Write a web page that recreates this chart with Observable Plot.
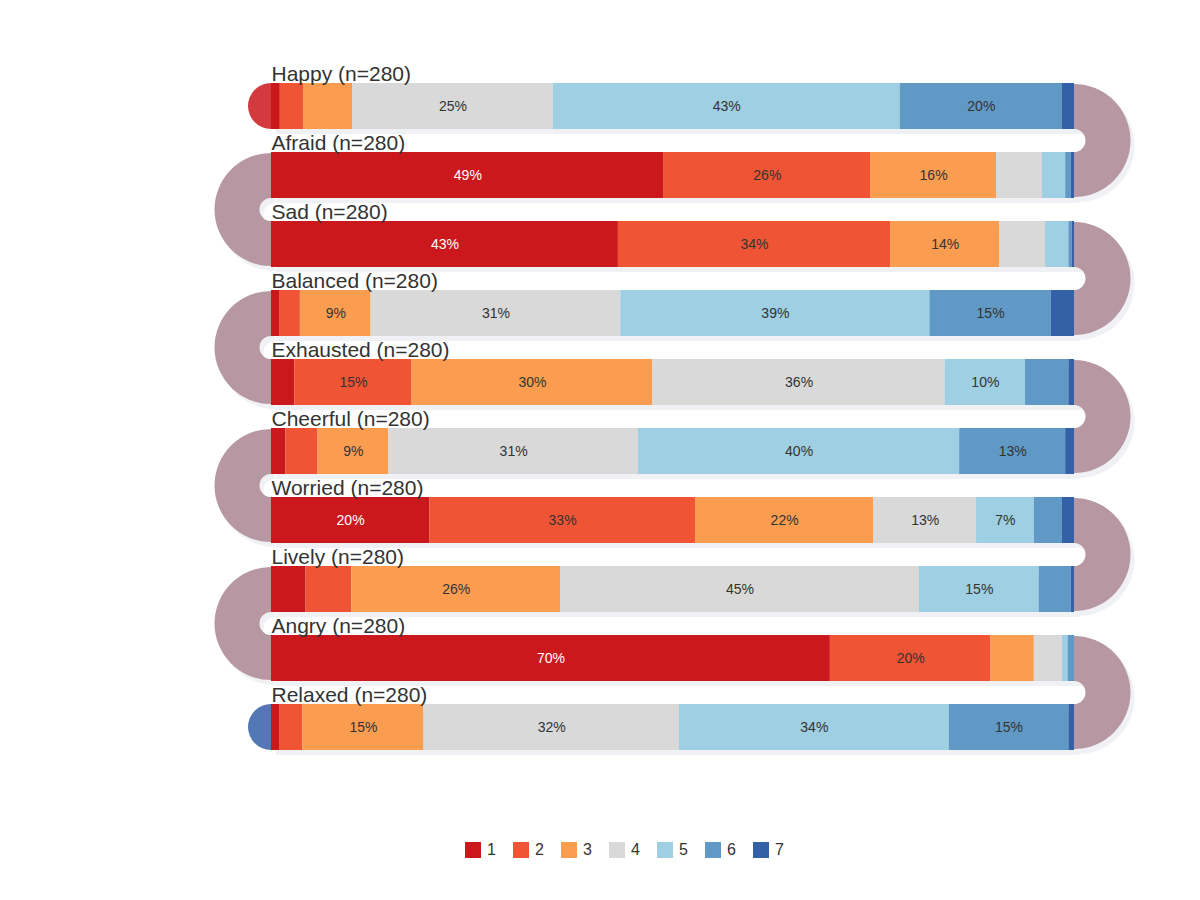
<!DOCTYPE html>
<html>
<head>
<meta charset="utf-8">
<script src="https://cdn.jsdelivr.net/npm/d3@7"></script>
<script src="https://cdn.jsdelivr.net/npm/@observablehq/plot@0.6"></script>
<style>
  body { margin: 0; background: #fff; font-family: "Liberation Sans", Arial, sans-serif; }
  #wrap { position: relative; width: 1200px; height: 900px; }
  #wrap svg { display: block; }
  #legend { position: absolute; left: 465px; top: 842px; display: flex; }
  .item { display: flex; align-items: center; width: 48px; font-size: 16px; color: #333; line-height: 16px; }
  .sw { width: 16px; height: 16px; margin-right: 6px; }
</style>
</head>
<body>
<div id="wrap"></div>
<script>
// ---- data ----
const emotions = ["Happy", "Afraid", "Sad", "Balanced", "Exhausted", "Cheerful", "Worried", "Lively", "Angry", "Relaxed"];
const counts = [280, 280, 280, 280, 280, 280, 280, 280, 280, 280];
const levels = ["1", "2", "3", "4", "5", "6", "7"];
const colors = ["#cb181d", "#ef5535", "#fb9d51", "#d9d9d9", "#9ecfe2", "#6199c6", "#3460a8"];

// shares (%) per level 1..7
const happy     = [1.1, 2.9, 6.1, 25.0, 43.2, 20.2, 1.5];
const afraid    = [48.9, 25.7, 15.7, 5.7, 2.9, 0.7, 0.4];
const sad       = [43.2, 33.9, 13.6, 5.7, 2.9, 0.4, 0.3];
const balanced  = [1.0, 2.6, 8.8, 31.1, 38.5, 15.1, 2.9];
const exhausted = [2.9, 14.6, 30.0, 36.4, 10.0, 5.4, 0.7];
const cheerful  = [1.8, 4.0, 8.8, 31.1, 40.0, 13.2, 1.1];
const worried   = [19.7, 33.1, 22.2, 12.8, 7.2, 3.5, 1.5];
const lively    = [4.3, 5.7, 26.0, 44.7, 14.9, 4.0, 0.4];
const angry     = [69.6, 20.0, 5.4, 3.5, 0.7, 0.8, 0.0];
const relaxed   = [1.0, 2.9, 15.1, 31.8, 33.6, 14.9, 0.7];
const shares = [happy, afraid, sad, balanced, exhausted, cheerful, worried, lively, angry, relaxed];

const connectorColor = "#b797a2";
const shadowColor = "#eff1f4";
const textColor = "#333333";

// ---- table built from arrays ----
const table = [];
emotions.forEach((e, i) => {
  levels.forEach((l, j) => table.push({emotion: e, level: l, value: shares[i][j]}));
});

// snake connectors and end caps, drawn with the plot's own scales
function connectors(index, scales) {
  const x = scales.x, y = scales.y;
  const bw = y.bandwidth();
  const step = y(emotions[1]) - y(emotions[0]);
  const gap = step - bw;
  const arc = d3.arc().innerRadius(gap / 2).outerRadius(bw + gap / 2 - 1);
  const g = d3.create("svg:g");
  const specs = [];
  for (let i = 0; i < emotions.length - 1; i++) {
    const right = i % 2 === 0;
    specs.push({
      cx: right ? x(100) : x(0),
      cy: y(emotions[i]) + bw + gap / 2,
      a: right ? {startAngle: 0, endAngle: Math.PI} : {startAngle: Math.PI, endAngle: 2 * Math.PI}
    });
  }
  for (const s of specs) {
    g.append("path").attr("transform", `translate(${s.cx + 4},${s.cy + 5})`)
      .attr("d", arc(s.a)).attr("fill", shadowColor);
  }
  for (const s of specs) {
    g.append("path").attr("transform", `translate(${s.cx},${s.cy})`)
      .attr("d", arc(s.a)).attr("fill", connectorColor);
  }
  // start / end caps
  const cap = d3.arc().innerRadius(0).outerRadius(bw / 2);
  const first = emotions[0], last = emotions[emotions.length - 1];
  g.append("path").attr("transform", `translate(${x(0)},${y(first) + bw / 2})`)
    .attr("d", cap({startAngle: Math.PI, endAngle: 2 * Math.PI}))
    .attr("fill", colors[0]).attr("fill-opacity", 0.85);
  g.append("path").attr("transform", `translate(${x(0)},${y(last) + bw / 2})`)
    .attr("d", cap({startAngle: Math.PI, endAngle: 2 * Math.PI}))
    .attr("fill", colors[colors.length - 1]).attr("fill-opacity", 0.85);
  return g.node();
}

const pctText = d => d.value >= 6.5 ? `${Math.round(d.value)}%` : null;

const chart = Plot.plot({
  width: 1200,
  height: 830,
  marginTop: 0, marginRight: 0, marginBottom: 0, marginLeft: 0,
  style: {background: "white", fontFamily: "'Liberation Sans', Arial, sans-serif"},
  x: {domain: [0, 100], range: [271, 1074], axis: null},
  y: {type: "band", domain: emotions, range: [83, 750], paddingInner: 1 / 3, paddingOuter: 0, round: false, axis: null},
  color: {type: "ordinal", domain: levels, range: colors},
  marks: [
    // bar shadows
    Plot.barX(emotions, {x1: 0, x2: 100, y: d => d, fill: shadowColor, dx: 5, dy: 5}),
    connectors,
    // stacked bars
    Plot.barX(table, {x: "value", y: "emotion", fill: "level", inset: 0}),
    // percentage labels
    Plot.text(table, Plot.stackX({
      x: "value", y: "emotion",
      text: d => d.level === "1" ? pctText(d) : null,
      fill: "white", fontSize: 14
    })),
    Plot.text(table, Plot.stackX({
      x: "value", y: "emotion",
      text: d => d.level !== "1" ? pctText(d) : null,
      fill: textColor, fontSize: 14
    })),
    // row labels
    Plot.text(emotions, {
      x: 0, y: d => d,
      text: (d, i) => `${d} (n=${counts[i]})`,
      textAnchor: "start", lineAnchor: "bottom", dy: -26,
      fontSize: 21, fill: textColor
    })
  ]
});

const wrap = document.getElementById("wrap");
wrap.appendChild(chart);

// legend
const legend = document.createElement("div");
legend.id = "legend";
levels.forEach((l, j) => {
  const item = document.createElement("div");
  item.className = "item";
  const sw = document.createElement("div");
  sw.className = "sw";
  sw.style.background = colors[j];
  const lab = document.createElement("span");
  lab.textContent = l;
  item.appendChild(sw);
  item.appendChild(lab);
  legend.appendChild(item);
});
wrap.appendChild(legend);
</script>
</body>
</html>
